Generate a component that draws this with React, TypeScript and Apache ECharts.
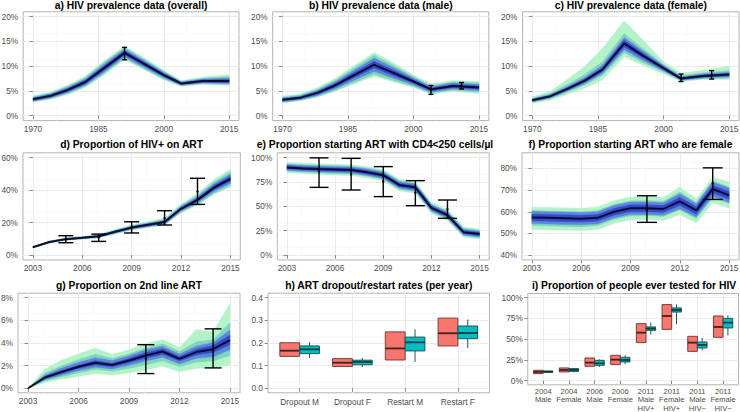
import React, { useEffect, useRef } from "react";
import * as echarts from "echarts";

// ---------------- tick labels ----------------
const prevYearTicks = [1970, 1985, 2000, 2015];
const artYearTicks = [2003, 2006, 2009, 2012, 2015];
const prevPctTicks = [0, 5, 10, 15, 20];
const artPctTicks = [0, 20, 40, 60];
const cd4PctTicks = [0, 25, 50, 75, 100];
const femPctTicks = [40, 50, 60, 70, 80];
const secondPctTicks = [0, 2, 4, 6, 8];
const rateTicks = [0, 0.1, 0.2, 0.3, 0.4];
const testPctTicks = [0, 25, 50, 75, 100];

// ---------------- a-c) HIV prevalence (%) ----------------
const prevYears = [1970, 1974, 1978, 1982, 1986, 1991, 1995, 2000, 2004, 2009, 2015];

const aMedian = [3.3, 4.0, 5.2, 6.8, 9.4, 12.7, 10.7, 8.2, 6.5, 7.0, 7.0];
const aLo1 = [2.7, 3.3, 4.3, 5.7, 8.0, 11.3, 9.5, 7.2, 5.9, 6.3, 6.1];
const aHi1 = [4.0, 4.8, 6.2, 8.0, 10.9, 14.1, 12.0, 9.2, 7.1, 7.8, 8.3];
const aLo2 = [2.8, 3.4, 4.45, 5.9, 8.25, 11.55, 9.7, 7.4, 6.05, 6.45, 6.3];
const aHi2 = [3.85, 4.6, 5.95, 7.7, 10.6, 13.8, 11.7, 9.0, 6.95, 7.6, 7.9];
const aLo3 = [2.94, 3.59, 4.68, 6.17, 8.6, 11.93, 10.01, 7.65, 6.17, 6.59, 6.5];
const aHi3 = [3.66, 4.41, 5.72, 7.43, 10.2, 13.47, 11.39, 8.75, 6.83, 7.41, 7.6];
const aLo4 = [3.1, 3.77, 4.91, 6.45, 8.96, 12.28, 10.32, 7.9, 6.32, 6.77, 6.67];
const aHi4 = [3.5, 4.23, 5.49, 7.15, 9.84, 13.12, 11.08, 8.5, 6.68, 7.23, 7.33];
const aObsYears = [1991];
const aObsLo = [11.3];
const aObsHi = [13.8];
const aObsMid = [12.6];

const bMedian = [3.2, 3.6, 4.6, 6.1, 8.0, 10.3, 8.8, 6.9, 5.3, 6.0, 5.7];
const bLo1 = [2.6, 3.0, 3.8, 4.9, 6.3, 7.9, 6.9, 5.7, 4.4, 4.9, 4.5];
const bHi1 = [4.0, 4.4, 5.7, 7.5, 9.9, 12.8, 10.9, 8.2, 6.4, 7.1, 6.9];
const bLo2 = [2.64, 3.04, 3.84, 5.06, 6.56, 8.34, 7.2, 5.9, 4.5, 5.12, 4.74];
const bHi2 = [3.76, 4.16, 5.36, 7.14, 9.44, 12.26, 10.4, 7.9, 6.1, 6.88, 6.66];
const bLo3 = [2.81, 3.21, 4.08, 5.38, 7.01, 8.95, 7.7, 6.21, 4.75, 5.39, 5.04];
const bHi3 = [3.59, 3.99, 5.12, 6.82, 8.99, 11.65, 9.9, 7.59, 5.85, 6.61, 6.36];
const bLo4 = [3.0, 3.4, 4.33, 5.74, 7.5, 9.62, 8.24, 6.55, 5.02, 5.69, 5.36];
const bHi4 = [3.4, 3.8, 4.87, 6.46, 8.5, 10.98, 9.36, 7.25, 5.58, 6.31, 6.04];
const bObsYears = [2004, 2011];
const bObsLo = [4.3, 5.4];
const bObsHi = [6.1, 6.7];
const bObsMid = [5.2, 6.0];

const cMedian = [3.1, 3.9, 5.4, 7.1, 9.3, 14.6, 12.3, 9.6, 7.5, 8.0, 8.3];
const cLo1 = [2.5, 3.1, 4.3, 5.6, 7.2, 11.9, 10.3, 8.4, 6.9, 7.3, 7.3];
const cHi1 = [3.8, 4.9, 7.3, 10.0, 13.6, 19.2, 15.6, 10.9, 8.6, 9.2, 10.0];
const cLo2 = [2.65, 3.35, 4.75, 6.2, 8.05, 12.7, 10.85, 8.85, 7.05, 7.45, 7.55];
const cHi2 = [3.55, 4.5, 6.35, 8.3, 10.9, 16.6, 13.8, 10.4, 8.1, 8.7, 9.15];
const cLo3 = [2.8, 3.55, 4.95, 6.5, 8.5, 13.3, 11.3, 9.05, 7.18, 7.6, 7.8];
const cHi3 = [3.4, 4.25, 5.9, 7.75, 10.2, 15.8, 13.3, 10.15, 7.85, 8.45, 8.8];
const cLo4 = [2.95, 3.72, 5.18, 6.8, 8.9, 13.9, 11.8, 9.3, 7.32, 7.78, 8.05];
const cHi4 = [3.25, 4.08, 5.62, 7.4, 9.7, 15.3, 12.8, 9.9, 7.68, 8.22, 8.55];
const cObsYears = [2004, 2011];
const cObsLo = [6.9, 7.4];
const cObsHi = [8.4, 9.1];
const cObsMid = [7.6, 8.2];

// ---------------- d-g) ART indicators (%) ----------------
const artYears = [2003, 2004, 2005, 2006, 2007, 2008, 2009, 2010, 2011, 2012, 2013, 2014, 2015];

const dMedian = [4.8, 8.0, 9.8, 10.6, 11.6, 14.3, 16.9, 18.6, 20.3, 28.5, 34.0, 41.5, 47.0];
const dLo1 = [4.5, 7.2, 9.0, 9.7, 10.5, 12.9, 15.3, 16.9, 18.4, 25.9, 30.8, 37.3, 42.0];
const dHi1 = [5.1, 8.6, 10.7, 11.6, 12.8, 15.8, 18.7, 20.6, 22.8, 31.4, 38.0, 46.5, 53.0];
const dLo2 = [4.57, 7.45, 9.14, 9.86, 10.7, 13.17, 15.57, 17.16, 18.58, 26.35, 31.19, 37.91, 42.71];
const dHi2 = [5.03, 8.55, 10.46, 11.34, 12.5, 15.43, 18.23, 20.04, 22.02, 30.65, 36.81, 45.09, 51.29];
const dLo3 = [4.64, 7.64, 9.36, 10.11, 11.0, 13.55, 16.02, 17.64, 19.16, 27.07, 32.13, 39.11, 44.14];
const dHi3 = [4.96, 8.36, 10.24, 11.09, 12.2, 15.05, 17.78, 19.56, 21.44, 29.93, 35.87, 43.89, 49.86];
const dLo4 = [4.72, 7.8, 9.56, 10.33, 11.28, 13.89, 16.42, 18.08, 19.68, 27.73, 33.0, 40.21, 45.46];
const dHi4 = [4.88, 8.2, 10.04, 10.87, 11.92, 14.71, 17.38, 19.12, 20.92, 29.27, 35.0, 42.79, 48.54];
const dObsYears = [2005, 2007, 2009, 2011, 2013];
const dObsLo = [7.6, 8.4, 13.6, 18.5, 31.2];
const dObsHi = [11.9, 12.9, 20.5, 27.3, 47.3];
const dObsMid = [9.8, 10.8, 17.2, 22.8, 39.2];

const eMedian = [90.0, 89.0, 88.3, 87.8, 87.3, 85.0, 82.0, 72.0, 69.5, 48.5, 41.0, 23.5, 21.5];
const eLo1 = [84.5, 83.5, 82.6, 82.0, 81.5, 79.0, 75.8, 65.8, 63.2, 42.6, 35.2, 18.2, 16.4];
const eHi1 = [95.2, 94.4, 93.8, 93.4, 93.0, 90.8, 87.9, 78.0, 75.6, 54.3, 46.8, 29.0, 27.0];
const eLo2 = [86.0, 85.0, 84.2, 83.6, 83.1, 80.7, 77.6, 67.6, 65.0, 44.3, 36.8, 19.6, 17.8];
const eHi2 = [93.8, 92.9, 92.3, 91.9, 91.5, 89.3, 86.4, 76.4, 74.0, 52.7, 45.2, 27.5, 25.4];
const eLo3 = [87.06, 86.0, 85.22, 84.66, 84.14, 81.75, 78.67, 68.64, 66.09, 45.28, 37.81, 20.53, 18.58];
const eHi3 = [92.94, 92.0, 91.38, 90.94, 90.46, 88.25, 85.33, 75.36, 72.91, 51.72, 44.19, 26.47, 24.42];
const eLo4 = [88.4, 87.36, 86.62, 86.09, 85.57, 83.23, 80.18, 70.17, 67.64, 46.74, 39.26, 21.88, 19.91];
const eHi4 = [91.6, 90.64, 89.98, 89.51, 89.03, 86.77, 83.82, 73.83, 71.36, 50.26, 42.74, 25.12, 23.09];
const eObsYears = [2005, 2007, 2009, 2011, 2013];
const eObsLo = [69.5, 66.8, 60.0, 50.7, 37.7];
const eObsHi = [99.8, 99.3, 90.8, 76.4, 56.5];
const eObsMid = [86.0, 83.0, 75.5, 64.0, 47.0];

const fMedian = [57.4, 57.2, 57.0, 56.8, 57.2, 60.0, 61.6, 61.6, 61.3, 64.8, 60.6, 70.5, 67.6];
const fLo1 = [51.8, 51.6, 51.4, 51.2, 51.8, 54.6, 56.2, 56.4, 56.0, 58.6, 54.8, 64.0, 61.6];
const fHi1 = [62.2, 62.0, 61.8, 61.6, 62.2, 65.2, 66.8, 67.0, 66.6, 71.4, 66.0, 76.0, 73.8];
const fLo2 = [53.6, 53.4, 53.2, 53.0, 53.6, 56.4, 58.0, 58.1, 57.8, 60.8, 56.8, 66.3, 63.8];
const fHi2 = [60.6, 60.4, 60.2, 60.0, 60.6, 63.5, 65.1, 65.2, 64.9, 69.2, 64.3, 74.3, 71.4];
const fLo3 = [54.54, 54.34, 54.14, 53.94, 54.34, 57.08, 58.68, 58.68, 58.38, 61.28, 57.52, 67.2, 64.25];
const fHi3 = [60.26, 60.06, 59.86, 59.66, 60.06, 62.92, 64.52, 64.52, 64.22, 68.32, 63.68, 73.8, 70.95];
const fLo4 = [55.84, 55.64, 55.44, 55.24, 55.64, 58.4, 60.0, 60.0, 59.7, 62.9, 58.9, 68.7, 65.8];
const fHi4 = [58.96, 58.76, 58.56, 58.36, 58.76, 61.6, 63.2, 63.2, 62.9, 66.7, 62.3, 72.3, 69.4];
const fObsYears = [2010, 2014];
const fObsLo = [55.1, 65.7];
const fObsHi = [67.4, 80.3];
const fObsMid = [61.3, 73.0];

const gMedian = [0.0, 0.95, 1.45, 1.9, 2.25, 2.05, 2.45, 2.9, 3.25, 2.6, 3.2, 3.45, 4.25];
const gLo1 = [0.0, 0.5, 0.8, 1.05, 1.3, 1.15, 1.35, 1.6, 1.95, 1.45, 1.75, 1.8, 2.05];
const gHi1 = [0.0, 1.7, 2.5, 3.05, 3.55, 3.0, 3.4, 3.95, 4.3, 3.6, 5.2, 5.0, 7.5];
const gLo2 = [0.0, 0.65, 1.0, 1.35, 1.65, 1.5, 1.75, 2.05, 2.4, 1.9, 2.3, 2.4, 2.9];
const gHi2 = [0.0, 1.35, 2.0, 2.55, 3.0, 2.65, 3.05, 3.55, 3.95, 3.25, 4.1, 4.3, 5.8];
const gLo3 = [0.0, 0.76, 1.16, 1.55, 1.85, 1.7, 2.02, 2.4, 2.75, 2.15, 2.65, 2.78, 3.4];
const gHi3 = [0.0, 1.18, 1.8, 2.3, 2.7, 2.45, 2.88, 3.4, 3.72, 3.02, 3.72, 4.05, 5.15];
const gLo4 = [0.0, 0.85, 1.3, 1.75, 2.05, 1.9, 2.25, 2.65, 3.0, 2.4, 2.95, 3.15, 3.85];
const gHi4 = [0.0, 1.05, 1.6, 2.05, 2.45, 2.2, 2.65, 3.15, 3.5, 2.8, 3.45, 3.8, 4.7];
const gObsYears = [2010, 2014];
const gObsLo = [1.3, 1.8];
const gObsHi = [3.85, 5.25];
const gObsMid = [2.6, 3.5];

// ---------------- h) dropout / restart rates (per year) ----------------
const hCategories = ["Dropout M", "Dropout F", "Restart M", "Restart F"];
// [min, q1, median, q3, max]
const hData = [
  [0.141, 0.141, 0.166, 0.201, 0.201],
  [0.096, 0.096, 0.113, 0.131, 0.131],
  [0.125, 0.125, 0.176, 0.249, 0.249],
  [0.187, 0.187, 0.243, 0.31, 0.31],
];
const hModel = [
  [0.134, 0.153, 0.172, 0.187, 0.204],
  [0.094, 0.104, 0.116, 0.124, 0.134],
  [0.116, 0.165, 0.203, 0.226, 0.26],
  [0.178, 0.219, 0.244, 0.275, 0.304],
];

// ---------------- i) ever tested for HIV (%) ----------------
const iCategories = [
  "2004\nMale", "2004\nFemale", "2006\nMale", "2006\nFemale",
  "2011\nMale\nHIV+", "2011\nFemale\nHIV+", "2011\nMale\nHIV\u2212", "2011\nFemale\nHIV\u2212",
];
const iData = [
  [8.5, 8.5, 10.5, 12.5, 12.5],
  [10.5, 10.5, 12.9, 15.3, 15.3],
  [17.3, 17.3, 21.7, 27.3, 27.3],
  [19.3, 19.3, 25.3, 30.5, 30.5],
  [45.8, 45.8, 57.8, 68.7, 68.7],
  [61.8, 61.8, 77.9, 91.6, 91.6],
  [35.3, 35.3, 45.8, 53.4, 53.4],
  [52.2, 52.2, 64.7, 77.9, 77.9],
];
const iModel = [
  [9.5, 10.0, 10.8, 11.5, 12.0],
  [10.0, 11.2, 12.9, 14.5, 15.3],
  [16.5, 18.5, 20.9, 24.5, 25.7],
  [20.1, 22.5, 24.9, 28.1, 30.5],
  [55.4, 60.6, 62.7, 64.7, 69.9],
  [68.0, 82.7, 85.1, 87.6, 92.0],
  [36.5, 39.4, 43.0, 46.6, 51.4],
  [54.6, 63.5, 69.9, 75.0, 78.7],
];

// ---------------- styles ----------------
const AXIS_FONT = "'Liberation Sans', Arial, Helvetica, sans-serif";
const TITLE_FONT = "'Liberation Sans', Arial, Helvetica, sans-serif";
const BAND_COLORS = ["#b4f3c9", "#80d4bd", "#5b88d8", "#3549cf"];
const LINE_COLOR = "#0c0c2e";
const RED_FILL = "#F8766D";
const RED_EDGE = "#7a3e3a";
const TEAL_FILL = "#00BFC4";
const TEAL_EDGE = "#1e5658";

const GRIDS = [
  { left: 23.2, top: 11.8, width: 215.8, height: 108.8 },
  { left: 272.7, top: 11.8, width: 216.1, height: 108.8 },
  { left: 522.5, top: 11.8, width: 216.5, height: 108.8 },
  { left: 23, top: 152.8, width: 217.3, height: 107.1 },
  { left: 277.3, top: 152.8, width: 211.9, height: 107.1 },
  { left: 522, top: 152.8, width: 217, height: 107.1 },
  { left: 18, top: 293.2, width: 222, height: 99.6 },
  { left: 268, top: 293.2, width: 221.5, height: 99.6 },
  { left: 527.8, top: 293.5, width: 210.7, height: 91.3 },
];

const TITLES = [
  { text: "a) HIV prevalence data (overall)", x: 131.1, y: 5.5 },
  { text: "b) HIV prevalence data (male)", x: 380.8, y: 5.5 },
  { text: "c) HIV prevalence data (female)", x: 630.8, y: 5.5 },
  { text: "d) Proportion of HIV+ on ART", x: 131.6, y: 144.5 },
  { text: "e) Proportion starting ART with CD4<250 cells/\u00b5l", x: 375, y: 144.5 },
  { text: "f) Proportion starting ART who are female", x: 630.5, y: 144.5 },
  { text: "g) Proportion on 2nd line ART", x: 129, y: 285.7 },
  { text: "h) ART dropout/restart rates (per year)", x: 378.8, y: 285.7 },
  { text: "i) Proportion of people ever tested for HIV", x: 634, y: 285.7 },
];

const labelStyle = { color: "#4d4d4d", fontSize: 8.3, fontFamily: AXIS_FONT };
const tickStyle = { color: "#8c8c8c", width: 1 };
const splitStyle = { show: true, lineStyle: { color: "#ebebeb", width: 1 } };
const minorSplitStyle = { show: true, lineStyle: { color: "#f5f5f5", width: 0.6 } };

function yAxisFor(gi: number, ticks: number[], lo: number, hi: number, fmt: (v: number) => string) {
  const r = hi - lo;
  return {
    type: "value",
    gridIndex: gi,
    min: lo - 0.05 * r,
    max: hi + 0.05 * r,
    interval: ticks[1] - ticks[0],
    axisLine: { show: false },
    axisTick: { show: true, length: 3.5, lineStyle: tickStyle, customValues: ticks },
    axisLabel: { ...labelStyle, margin: 5, customValues: ticks, formatter: (v: number) => fmt(v) },
    splitLine: splitStyle,
    minorTick: { show: false, splitNumber: 2 },
    minorSplitLine: minorSplitStyle,
  };
}

function bandSeries(gi: number, xs: number[], lo: number[], hi: number[], color: string) {
  return {
    type: "custom",
    xAxisIndex: gi,
    yAxisIndex: gi,
    silent: true,
    z: 2,
    data: xs.map((x, i) => [x, lo[i], hi[i]]),
    renderItem: (params: any, api: any) => {
      if (params.dataIndexInside !== 0) return null;
      const n = params.dataInsideLength;
      const top: number[][] = [];
      const bot: number[][] = [];
      for (let i = 0; i < n; i++) {
        const x = api.value(0, i);
        top.push(api.coord([x, api.value(2, i)]));
        bot.push(api.coord([x, api.value(1, i)]));
      }
      return {
        type: "polygon",
        shape: { points: top.concat(bot.reverse()) },
        style: { fill: color, stroke: color, lineWidth: 0.3 },
      };
    },
  };
}

function errorSeries(gi: number, xs: number[], lo: number[], hi: number[], mid: number[], capW: number) {
  return {
    type: "custom",
    xAxisIndex: gi,
    yAxisIndex: gi,
    silent: true,
    z: 5,
    data: xs.map((x, i) => [x, lo[i], hi[i], mid[i]]),
    renderItem: (params: any, api: any) => {
      const x = api.value(0);
      const pLo = api.coord([x, api.value(1)]);
      const pHi = api.coord([x, api.value(2)]);
      const pMid = api.coord([x, api.value(3)]);
      const w = capW / 2;
      const st = { stroke: "#000", lineWidth: 1.4 };
      return {
        type: "group",
        children: [
          { type: "line", shape: { x1: pLo[0], y1: pLo[1], x2: pHi[0], y2: pHi[1] }, style: st },
          { type: "line", shape: { x1: pLo[0] - w, y1: pLo[1], x2: pLo[0] + w, y2: pLo[1] }, style: st },
          { type: "line", shape: { x1: pHi[0] - w, y1: pHi[1], x2: pHi[0] + w, y2: pHi[1] }, style: st },
          { type: "circle", shape: { cx: pMid[0], cy: pMid[1], r: 1.2 }, style: { fill: "#000" } },
        ],
      };
    },
  };
}

function timePanel(
  gi: number, years: number[], median: number[], bands: number[][][],
  obs: number[][], xTicks: number[], yTicks: number[], yLo: number, yHi: number,
  fmt: (v: number) => string, capW: number
) {
  const x0 = xTicks[0];
  const xr = xTicks[xTicks.length - 1] - x0;
  const xs = years.map((y) => y - x0);
  const tickRel = xTicks.map((t) => t - x0);
  const xAxis = {
    type: "value",
    gridIndex: gi,
    min: -0.05 * xr,
    max: xr * 1.05,
    interval: xTicks[1] - xTicks[0],
    axisLine: { show: false },
    axisTick: { show: true, length: 3.5, lineStyle: tickStyle, customValues: tickRel },
    axisLabel: { ...labelStyle, margin: 4.5, customValues: tickRel, formatter: (v: number) => String(Math.round(v + x0)) },
    splitLine: splitStyle,
    minorTick: { show: false, splitNumber: 2 },
    minorSplitLine: minorSplitStyle,
  };
  const yAxis = yAxisFor(gi, yTicks, yLo, yHi, fmt);
  const series: any[] = bands.map((b, k) => bandSeries(gi, xs, b[0], b[1], BAND_COLORS[k]));
  series.push({
    type: "line",
    xAxisIndex: gi,
    yAxisIndex: gi,
    silent: true,
    z: 4,
    showSymbol: false,
    symbol: "none",
    data: xs.map((x, i) => [x, median[i]]),
    lineStyle: { color: LINE_COLOR, width: 2 },
  });
  series.push(errorSeries(gi, obs[0].map((y) => y - x0), obs[1], obs[2], obs[3], capW));
  return { xAxis, yAxis, series };
}

function boxSeries(gi: number, data: number[][], offset: number, fill: string, edge: string, medColor: string) {
  return {
    type: "custom",
    xAxisIndex: gi,
    yAxisIndex: gi,
    silent: true,
    z: 3,
    data: data.map((d, i) => [i + 1, d[0], d[1], d[2], d[3], d[4]]),
    renderItem: (params: any, api: any) => {
      const c = api.value(0);
      const xc = api.coord([c + offset, 0])[0];
      const half = api.size([0.375, 0])[0] / 2;
      const yMin = api.coord([c, api.value(1)])[1];
      const yQ1 = api.coord([c, api.value(2)])[1];
      const yMed = api.coord([c, api.value(3)])[1];
      const yQ3 = api.coord([c, api.value(4)])[1];
      const yMax = api.coord([c, api.value(5)])[1];
      const st = { stroke: edge, lineWidth: 1 };
      return {
        type: "group",
        children: [
          { type: "line", shape: { x1: xc, y1: yMin, x2: xc, y2: yQ1 }, style: st },
          { type: "line", shape: { x1: xc, y1: yQ3, x2: xc, y2: yMax }, style: st },
          { type: "rect", shape: { x: xc - half, y: yQ3, width: half * 2, height: yQ1 - yQ3 }, style: { fill, stroke: edge, lineWidth: 1 } },
          { type: "line", shape: { x1: xc - half, y1: yMed, x2: xc + half, y2: yMed }, style: { stroke: medColor, lineWidth: 1.8 } },
        ],
      };
    },
  };
}

function boxPanel(
  gi: number, cats: string[], data: number[][], model: number[][],
  yTicks: number[], yLo: number, yHi: number, fmt: (v: number) => string,
  labelMargin: number, labelSize: number
) {
  const n = cats.length;
  const pos = cats.map((_, i) => i + 1);
  const xAxis = {
    type: "value",
    gridIndex: gi,
    min: 0.4,
    max: n + 0.6,
    interval: 1,
    axisLine: { show: false },
    axisTick: { show: true, length: 3.5, lineStyle: tickStyle, customValues: pos },
    axisLabel: {
      ...labelStyle, fontSize: labelSize, margin: labelMargin, lineHeight: 8.4, customValues: pos,
      formatter: (v: number) => cats[Math.round(v) - 1] || "",
    },
    splitLine: splitStyle,
    minorSplitLine: { show: false },
  };
  const yAxis = yAxisFor(gi, yTicks, yLo, yHi, fmt);
  const series = [
    boxSeries(gi, data, -0.1875, RED_FILL, RED_EDGE, "#3d2422"),
    boxSeries(gi, model, 0.1875, TEAL_FILL, TEAL_EDGE, "#14393a"),
  ];
  return { xAxis, yAxis, series };
}

const pct = (v: number) => `${Math.round(v)}%`;

function buildOption() {
  const panels = [
    timePanel(0, prevYears, aMedian, [[aLo1, aHi1], [aLo2, aHi2], [aLo3, aHi3], [aLo4, aHi4]],
      [aObsYears, aObsLo, aObsHi, aObsMid], prevYearTicks, prevPctTicks, 0, 20, pct, 5),
    timePanel(1, prevYears, bMedian, [[bLo1, bHi1], [bLo2, bHi2], [bLo3, bHi3], [bLo4, bHi4]],
      [bObsYears, bObsLo, bObsHi, bObsMid], prevYearTicks, prevPctTicks, 0, 20, pct, 5),
    timePanel(2, prevYears, cMedian, [[cLo1, cHi1], [cLo2, cHi2], [cLo3, cHi3], [cLo4, cHi4]],
      [cObsYears, cObsLo, cObsHi, cObsMid], prevYearTicks, prevPctTicks, 0, 20, pct, 5),
    timePanel(3, artYears, dMedian, [[dLo1, dHi1], [dLo2, dHi2], [dLo3, dHi3], [dLo4, dHi4]],
      [dObsYears, dObsLo, dObsHi, dObsMid], artYearTicks, artPctTicks, 0, 60, pct, 15),
    timePanel(4, artYears, eMedian, [[eLo1, eHi1], [eLo2, eHi2], [eLo3, eHi3], [eLo4, eHi4]],
      [eObsYears, eObsLo, eObsHi, eObsMid], artYearTicks, cd4PctTicks, 0, 100, pct, 19),
    timePanel(5, artYears, fMedian, [[fLo1, fHi1], [fLo2, fHi2], [fLo3, fHi3], [fLo4, fHi4]],
      [fObsYears, fObsLo, fObsHi, fObsMid], artYearTicks, femPctTicks, 40, 85, pct, 20),
    timePanel(6, artYears, gMedian, [[gLo1, gHi1], [gLo2, gHi2], [gLo3, gHi3], [gLo4, gHi4]],
      [gObsYears, gObsLo, gObsHi, gObsMid], artYearTicks, secondPctTicks, 0, 8, pct, 17),
    boxPanel(7, hCategories, hData, hModel, rateTicks, 0, 0.4, (v) => v.toFixed(1), 4.5, 8.3),
    boxPanel(8, iCategories, iData, iModel, testPctTicks, 0, 100, pct, 2.5, 7.6),
  ];

  return {
    animation: false,
    backgroundColor: "#ffffff",
    grid: GRIDS.map((g) => ({
      ...g,
      show: true,
      backgroundColor: "#ffffff",
      borderColor: "#b3b3b3",
      borderWidth: 1,
      containLabel: false,
      outerBoundsMode: "none",
    })),
    xAxis: panels.map((p) => p.xAxis),
    yAxis: panels.map((p) => p.yAxis),
    series: panels.flatMap((p) => p.series),
    graphic: TITLES.map((t) => ({
      type: "text",
      x: t.x,
      y: t.y,
      silent: true,
      style: {
        text: t.text,
        fill: "#000000",
        fontSize: 10.3,
        fontWeight: "bold",
        fontFamily: TITLE_FONT,
        align: "center",
        verticalAlign: "middle",
        textAlign: "center",
        textVerticalAlign: "middle",
      },
    })),
  };
}

export default function App() {
  const ref = useRef<HTMLDivElement>(null);
  useEffect(() => {
    if (!ref.current) return;
    const chart = echarts.init(ref.current, null, { renderer: "svg", width: 740, height: 412 });
    chart.setOption(buildOption() as any);
    return () => chart.dispose();
  }, []);
  return (
    <div
      ref={ref}
      style={{ position: "absolute", left: 0, top: 0, width: 740, height: 412, background: "#fff" }}
    />
  );
}
